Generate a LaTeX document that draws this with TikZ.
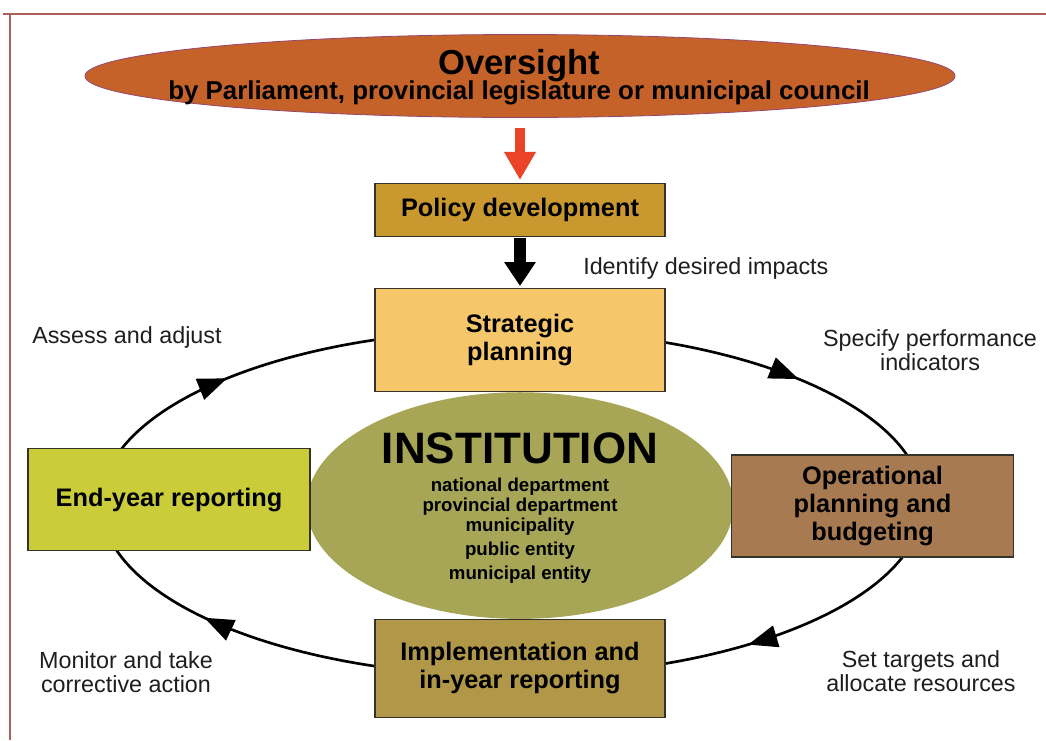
\documentclass[tikz,border=0pt]{standalone}
\usepackage{fontspec}
\setmainfont{Liberation Sans}
\usetikzlibrary{arrows.meta,positioning,shapes.geometric,decorations.markings}
\definecolor{frameline}{RGB}{168,98,88}
\definecolor{oversightfill}{RGB}{196,98,42}
\definecolor{oversightline}{RGB}{150,70,110}
\definecolor{policyfill}{RGB}{201,153,48}
\definecolor{strategicfill}{RGB}{246,199,106}
\definecolor{institutionfill}{RGB}{166,166,86}
\definecolor{endyearfill}{RGB}{202,204,58}
\definecolor{operationalfill}{RGB}{168,122,82}
\definecolor{implfill}{RGB}{176,152,72}
\definecolor{boxline}{RGB}{55,50,40}
\definecolor{downred}{RGB}{234,67,40}
\definecolor{labelgrey}{RGB}{30,30,30}

\begin{document}
\begin{tikzpicture}[x=0.75pt, y=-0.75pt,
    box/.style={rectangle, draw=boxline, line width=0.9pt, align=center, inner sep=0pt,
      minimum width=217.5pt, font=\fontsize{19}{21}\selectfont\bfseries},
    note/.style={align=center, inner sep=0pt, text=labelgrey, font=\fontsize{17.5}{18}\selectfont},
    cycletip/.tip={Triangle[length=22pt,width=16.5pt]}]
  \useasboundingbox (0,0) rectangle (1046,740);
  % page frame
  \draw[frameline, line width=1.5pt] (3,14) -- (1046,14);
  \draw[frameline, line width=1.5pt] (10,14) -- (10,740);

  % the planning cycle, clockwise
  \coordinate (hub) at (512,503);
  \draw[line width=2pt, postaction={decorate}, decoration={markings,
      mark=at position 0.125 with {\arrow{cycletip}},
      mark=at position 0.415 with {\arrow{cycletip}},
      mark=at position 0.598 with {\arrow{cycletip}},
      mark=at position 0.903 with {\arrow{cycletip}}}]
    (hub) ellipse [x radius=411, y radius=173];

  \node[ellipse, draw=oversightline, line width=0.6pt, fill=oversightfill, inner sep=0pt,
      minimum width=652.5pt, minimum height=62.25pt] (oversight) at (520,76) {};
  \node[align=center, inner sep=0pt, font=\fontsize{19.4}{17.25}\selectfont\bfseries]
      (oversighttext) at (519,77)
    {{\fontsize{26}{28}\selectfont Oversight}\\[-2pt]
     by Parliament, provincial legislature or municipal council};
  \node[box, fill=policyfill, minimum height=39.75pt, below=48.75pt of oversight] (policy)
    {Policy development};
  \node[box, fill=strategicfill, minimum height=77pt, below=38.25pt of policy] (strategic)
    {Strategic\\planning};
  \node[ellipse, fill=institutionfill, inner sep=0pt, minimum width=320pt, minimum height=170pt,
      below=0pt of strategic] (institution) {};
  \node[align=center, inner sep=0pt, font=\fontsize{14}{15}\selectfont\bfseries]
      (institutiontext) at (520,508)
    {{\fontsize{33}{36}\selectfont INSTITUTION}\\[6pt]
     national department\\ provincial department\\ municipality\\[3.5pt]
     public entity\\[3pt] municipal entity};
  \node[box, fill=implfill, minimum height=73pt, below=0pt of institution] (implementation)
    {Implementation and\\in-year reporting};
  \node[box, fill=endyearfill, minimum width=211.5pt, minimum height=77pt] (endyear) at (169,499.5)
    {End-year reporting};
  \node[box, fill=operationalfill, minimum width=212pt, minimum height=76.5pt] (operational) at (872.5,506)
    {Operational\\planning and\\budgeting};

  % downward block arrows
  \draw[downred, line width=7.5pt, -{Triangle[length=21pt,width=22.5pt]},
    shorten <=7.5pt, shorten >=2.25pt] (oversight) -- (policy);
  \draw[black, line width=9pt, -{Triangle[length=18pt,width=22.5pt]},
    shorten <=0.75pt, shorten >=1.5pt] (policy) -- (strategic);

  % step notes
  \node[note, anchor=west] (impacts) at (583,268) {Identify desired impacts};
  \node[note, anchor=west] (assess) at (32,337) {Assess and adjust};
  \node[note] (indicators) at (930,350) {Specify performance\\indicators};
  \node[note] (monitor) at (126,672) {Monitor and take\\corrective action};
  \node[note] (targets) at (921,671) {Set targets and\\allocate resources};
\end{tikzpicture}
\end{document}
